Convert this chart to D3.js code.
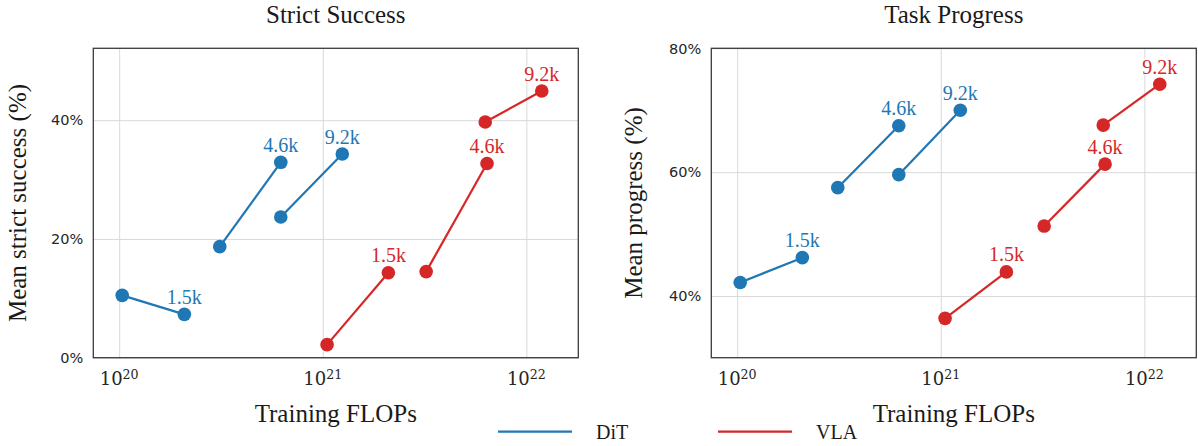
<!DOCTYPE html>
<html>
<head>
<meta charset="utf-8">
<script src="https://cdn.jsdelivr.net/npm/d3@7"></script>
<style>
  html, body { margin: 0; padding: 0; background: #fff; }
  svg { display: block; }
</style>
</head>
<body>
<svg id="chart" width="1198" height="446"></svg>
<script>
// ---------------- data ----------------
const dataSizes = ["1.5k", "4.6k", "9.2k"];

const ditFlopsStart = [1.035e20, 3.12e20, 6.22e20];
const ditFlopsEnd   = [2.09e20, 6.22e20, 1.247e21];
const vlaFlopsStart = [1.05e21, 3.22e21, 6.28e21];
const vlaFlopsEnd   = [2.10e21, 6.41e21, 1.19e22];

const ditSuccessStart = [10.5, 18.7, 23.7];
const ditSuccessEnd   = [7.3, 32.9, 34.3];
const vlaSuccessStart = [2.2, 14.5, 39.7];
const vlaSuccessEnd   = [14.3, 32.7, 44.9];

const ditProgressStart = [42.2, 57.5, 59.6];
const ditProgressEnd   = [46.2, 67.5, 70.0];
const vlaProgressStart = [36.4, 51.3, 67.6];
const vlaProgressEnd   = [43.9, 61.3, 74.2];

const xTicks = [1e20, 1e21, 1e22];
const successTicks = [0, 20, 40];
const progressTicks = [40, 60, 80];

const modelNames = ["DiT", "VLA"];
const modelColors = ["#1f77b4", "#d62728"];

// ---------------- drawing ----------------
const svg = d3.select("#chart");
const SERIF = "'Liberation Serif', 'Times New Roman', serif";

function buildSeries(fs, fe, vs, ve) {
  return dataSizes.map((s, i) => ({
    label: s,
    pts: [{x: fs[i], y: vs[i]}, {x: fe[i], y: ve[i]}]
  }));
}

function panel(opt) {
  const x = d3.scaleLog().domain([Math.pow(10, 19.873), Math.pow(10, 22.255)]).range([opt.left, opt.right]);
  const y = d3.scaleLinear().domain(opt.yDomain).range([opt.bottom, opt.top]);
  const g = svg.append("g");

  // grid
  g.append("g")
    .attr("transform", `translate(0,${opt.bottom})`)
    .call(d3.axisBottom(x).tickValues(xTicks).tickSize(-(opt.bottom - opt.top)).tickFormat(""))
    .call(a => a.select(".domain").remove())
    .call(a => a.selectAll("line").attr("stroke", "#d9d9d9").attr("stroke-width", 1));
  g.append("g")
    .attr("transform", `translate(${opt.left},0)`)
    .call(d3.axisLeft(y).tickValues(opt.yTicks).tickSize(-(opt.right - opt.left)).tickFormat(""))
    .call(a => a.select(".domain").remove())
    .call(a => a.selectAll("line").attr("stroke", "#d9d9d9").attr("stroke-width", 1));

  // x tick labels with superscript exponents
  const xt = g.append("g").selectAll("text").data(xTicks).join("text")
    .attr("x", d => x(d)).attr("y", opt.bottom + 27.5)
    .attr("text-anchor", "middle")
    .attr("font-family", "'DejaVu Serif', serif")
    .attr("font-size", 18)
    .attr("fill", "#262626");
  xt.append("tspan").text("10");
  xt.append("tspan").attr("font-size", 12.6).attr("dy", -6)
    .text(d => Math.round(Math.log10(d)));

  // y tick labels
  g.append("g").selectAll("text").data(opt.yTicks).join("text")
    .attr("x", opt.left - 10).attr("y", d => y(d)).attr("dy", "0.36em")
    .attr("text-anchor", "end")
    .attr("font-family", "'DejaVu Sans', sans-serif")
    .attr("font-size", 14.5)
    .attr("fill", "#262626")
    .text(d => d + "%");

  // frame
  g.append("rect")
    .attr("x", opt.left).attr("y", opt.top)
    .attr("width", opt.right - opt.left).attr("height", opt.bottom - opt.top)
    .attr("fill", "none").attr("stroke", "#3a3a3a").attr("stroke-width", 1.3);

  // series
  const line = d3.line().x(d => x(d.x)).y(d => y(d.y));
  opt.series.forEach((ser, k) => {
    const col = modelColors[k];
    const sg = g.append("g");
    sg.selectAll("path").data(ser).join("path")
      .attr("d", d => line(d.pts))
      .attr("fill", "none").attr("stroke", col).attr("stroke-width", 2.2);
    sg.selectAll("circle").data(ser.flatMap(d => d.pts)).join("circle")
      .attr("cx", d => x(d.x)).attr("cy", d => y(d.y)).attr("r", 6.8)
      .attr("fill", col);
    const lab = sg.selectAll("g.lab").data(ser).join("g").attr("class", "lab");
    const txt = lab.append("text")
      .attr("x", d => x(d.pts[1].x)).attr("y", d => y(d.pts[1].y) - 10.5)
      .attr("text-anchor", "middle")
      .attr("font-family", SERIF).attr("font-size", 20)
      .attr("fill", col)
      .text(d => d.label);
    txt.each(function () {
      const b = this.getBBox();
      d3.select(this.parentNode).insert("rect", "text")
        .attr("x", b.x).attr("y", b.y + 3).attr("width", b.width).attr("height", b.height - 6)
        .attr("fill", "#fff");
    });
  });

  // title
  svg.append("text")
    .attr("x", (opt.left + opt.right) / 2).attr("y", opt.titleY)
    .attr("text-anchor", "middle").attr("font-family", SERIF).attr("font-size", 25)
    .attr("fill", "#1a1a1a").text(opt.title);
  // x label
  svg.append("text")
    .attr("x", (opt.left + opt.right) / 2).attr("y", 422)
    .attr("text-anchor", "middle").attr("font-family", SERIF).attr("font-size", 25)
    .attr("fill", "#1a1a1a").text("Training FLOPs");
  // y label
  svg.append("text")
    .attr("transform", `translate(${opt.ylabelX},${(opt.top + opt.bottom) / 2}) rotate(-90)`)
    .attr("text-anchor", "middle").attr("font-family", SERIF).attr("font-size", 25)
    .attr("fill", "#1a1a1a").text(opt.ylabel);
}

panel({
  left: 93.3, right: 578.3, top: 48.3, bottom: 357.7,
  yDomain: [0, 52.1], yTicks: successTicks,
  title: "Strict Success", titleY: 23,
  ylabel: "Mean strict success (%)", ylabelX: 26,
  series: [
    buildSeries(ditFlopsStart, ditFlopsEnd, ditSuccessStart, ditSuccessEnd),
    buildSeries(vlaFlopsStart, vlaFlopsEnd, vlaSuccessStart, vlaSuccessEnd)
  ]
});

panel({
  left: 711.3, right: 1196.3, top: 48.3, bottom: 357.7,
  yDomain: [30.05, 80], yTicks: progressTicks,
  title: "Task Progress", titleY: 23,
  ylabel: "Mean progress (%)", ylabelX: 642,
  series: [
    buildSeries(ditFlopsStart, ditFlopsEnd, ditProgressStart, ditProgressEnd),
    buildSeries(vlaFlopsStart, vlaFlopsEnd, vlaProgressStart, vlaProgressEnd)
  ]
});

// legend
const legendX = [498, 718];
const leg = svg.append("g").selectAll("g").data(modelNames).join("g");
leg.append("line")
  .attr("x1", (d, i) => legendX[i]).attr("x2", (d, i) => legendX[i] + 74)
  .attr("y1", 431.7).attr("y2", 431.7)
  .attr("stroke", (d, i) => modelColors[i]).attr("stroke-width", 2.2);
leg.append("text")
  .attr("x", (d, i) => legendX[i] + 98).attr("y", 439)
  .attr("font-family", SERIF).attr("font-size", 20).attr("fill", "#1a1a1a")
  .text(d => d);
</script>
</body>
</html>
